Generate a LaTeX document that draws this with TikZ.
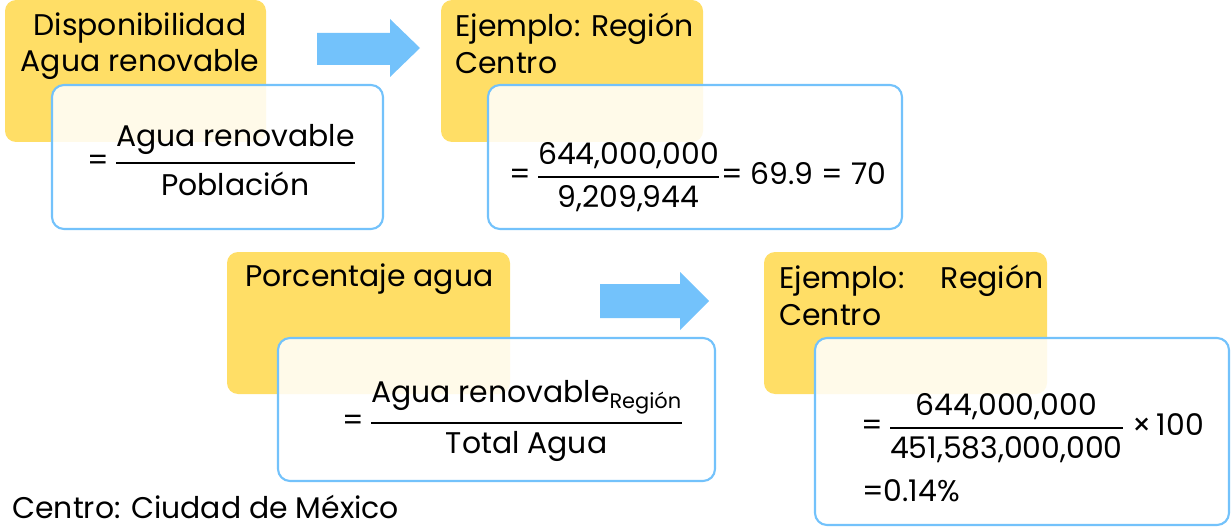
\documentclass[tikz,border=0pt]{standalone}
\usepackage{amsmath}
\usepackage{fontspec}
\setmainfont{Poppins}
\definecolor{amarillo}{HTML}{FFDE66}
\definecolor{celeste}{HTML}{73C2FB}
\newcommand{\fraccion}[2]{\genfrac{}{}{1.4pt}{0}{\mbox{#1}}{\mbox{#2}}}
\tikzset{
	fondo/.style={fill=amarillo, rounded corners=0.22cm},
	marco/.style={draw=celeste, line width=1.2pt, fill=white, fill opacity=0.86, rounded corners=0.24cm},
	flecha/.style={fill=celeste},
	texto/.style={inner sep=0pt, font=\fontsize{17}{21}\selectfont},
}
\begin{document}
\begin{tikzpicture}[x=0.02cm, y=-0.02cm]
	\useasboundingbox (0,0) rectangle (1231,527);
	
	% fondos amarillos
	\fill[fondo] (5,0) rectangle (266,142);
	\fill[fondo] (441,0) rectangle (703,142);
	\fill[fondo] (227,252) rectangle (510,394);
	\fill[fondo] (764,252) rectangle (1047,394);
	
	% marcos de las formulas
	\draw[marco] (52,85) rectangle (383,229);
	\draw[marco] (488,85) rectangle (902,229);
	\draw[marco] (278,338) rectangle (715,481);
	\draw[marco] (815,338) rectangle (1229,525);
	
	% flechas
	\fill[flecha] (317,33) -- (390,33) -- (390,19) -- (420,48) -- (390,77) -- (390,65) -- (317,65) -- cycle;
	\fill[flecha] (600,284) -- (680,284) -- (680,272) -- (709,301) -- (680,330) -- (680,318) -- (600,318) -- cycle;
	
	\node	(disp) at (140,12) [texto, anchor=north, align=center] {Disponibilidad\\Agua renovable};
	\node	(ej1) at (455,13) [texto, anchor=north west, align=left] {Ejemplo: Región\\Centro};
	\node	(porc) at (245,263) [texto, anchor=north west] {Porcentaje agua};
	\node	(ej2) at (779,265) [texto, anchor=north west, align=left] {\makebox[5.28cm][s]{Ejemplo:\hfill Región}\\Centro};
	
	\node	(f1) at (87,160) [texto, anchor=west] {=\,$\displaystyle\fraccion{Agua renovable}{Población}$};
	\node	(f2) at (509,177) [texto, anchor=west] {=\,$\displaystyle\fraccion{644,000,000}{9,209,944}$= 69.9 = 70};
	\node	(f3) at (342,421) [texto, anchor=west] {=\,$\displaystyle\fraccion{Agua renovable$_{\text{Región}}$}{Total Agua}$};
	\node	(f4) at (861,428) [texto, anchor=west] {=\,$\displaystyle\fraccion{644,000,000}{451,583,000,000}$ ×\,100};
	\node	(res) at (862,501) [texto, anchor=base west] {=0.14\%};
	
	\node	(centro) at (12,518) [texto, anchor=base west] {Centro: Ciudad de México};
\end{tikzpicture}
\end{document}
